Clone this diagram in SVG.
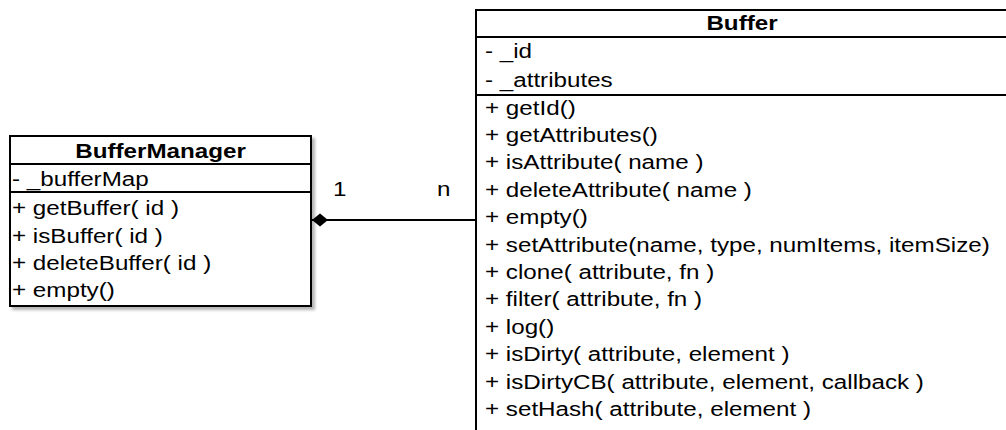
<svg xmlns="http://www.w3.org/2000/svg" width="1006" height="430" viewBox="0 0 1006 430">
  <style>
    .box { fill: #ffffff; stroke: #000000; stroke-width: 2; }
    .sep { stroke: #000000; stroke-width: 2; }
    .t { font-family: "Liberation Sans", Arial, Helvetica, sans-serif; font-size: 20px; fill: #000000; }
    .title { font-weight: bold; text-anchor: middle; }
    .edge { stroke: #000000; stroke-width: 2; fill: none; }
  </style>
  <defs>
    <filter id="shadow" x="-5%" y="-5%" width="115%" height="115%">
      <feGaussianBlur in="SourceAlpha" stdDeviation="1.5"/>
      <feOffset dx="3" dy="3" result="b"/>
      <feComponentTransfer><feFuncA type="linear" slope="0.3"/></feComponentTransfer>
      <feMerge><feMergeNode/><feMergeNode in="SourceGraphic"/></feMerge>
    </filter>
    <!-- filled diamond for composition, tip sits on the owner's edge -->
    <marker id="diamond" markerWidth="18" markerHeight="14" refX="17" refY="7" orient="auto" markerUnits="userSpaceOnUse">
      <path d="M1,7 L9,0.5 L17,7 L9,13.5 Z" fill="#000000"/>
    </marker>
  </defs>
  <rect width="1006" height="430" fill="#ffffff"/>

  <g id="BufferManager">
    <rect class="box" x="10" y="136" width="301" height="170" filter="url(#shadow)"/>
    <line class="sep" x1="10" y1="164" x2="311" y2="164"/>
    <line class="sep" x1="10" y1="192" x2="311" y2="192"/>
    <text class="t title" transform="translate(160.5,158) scale(1.21,1)">BufferManager</text>
    <text class="t" transform="translate(12,186) scale(1.21,1)">- _bufferMap</text>
    <text class="t" transform="translate(12,215) scale(1.21,1)">+ getBuffer( id )</text>
    <text class="t" transform="translate(12,242.5) scale(1.21,1)">+ isBuffer( id )</text>
    <text class="t" transform="translate(12,270) scale(1.21,1)">+ deleteBuffer( id )</text>
    <text class="t" transform="translate(12,297) scale(1.21,1)">+ empty()</text>
  </g>

  <g id="Buffer">
    <rect class="box" x="476" y="10" width="534" height="440" filter="url(#shadow)"/>
    <line class="sep" x1="476" y1="37" x2="1010" y2="37"/>
    <line class="sep" x1="476" y1="95" x2="1010" y2="95"/>
    <text class="t title" transform="translate(742,30) scale(1.21,1)">Buffer</text>
    <text class="t" transform="translate(485,58) scale(1.21,1)">- _id</text>
    <text class="t" transform="translate(485,87) scale(1.21,1)">- _attributes</text>
    <text class="t" transform="translate(485,114.5) scale(1.21,1)">+ getId()</text>
    <text class="t" transform="translate(485,141.9) scale(1.21,1)">+ getAttributes()</text>
    <text class="t" transform="translate(485,169.3) scale(1.21,1)">+ isAttribute( name )</text>
    <text class="t" transform="translate(485,196.7) scale(1.21,1)">+ deleteAttribute( name )</text>
    <text class="t" transform="translate(485,224.1) scale(1.21,1)">+ empty()</text>
    <text class="t" transform="translate(485,251.5) scale(1.21,1)">+ setAttribute(name, type, numItems, itemSize)</text>
    <text class="t" transform="translate(485,278.9) scale(1.21,1)">+ clone( attribute, fn )</text>
    <text class="t" transform="translate(485,306.3) scale(1.21,1)">+ filter( attribute, fn )</text>
    <text class="t" transform="translate(485,333.7) scale(1.21,1)">+ log()</text>
    <text class="t" transform="translate(485,361.1) scale(1.21,1)">+ isDirty( attribute, element )</text>
    <text class="t" transform="translate(485,388.5) scale(1.21,1)">+ isDirtyCB( attribute, element, callback )</text>
    <text class="t" transform="translate(485,415.9) scale(1.21,1)">+ setHash( attribute, element )</text>
  </g>

  <!-- composition: BufferManager owns many Buffers -->
  <g id="connectors">
    <line class="edge" x1="475" y1="220" x2="312" y2="220" marker-end="url(#diamond)"/>
    <text class="t" transform="translate(333,196) scale(1.21,1)">1</text>
    <text class="t" transform="translate(437,196) scale(1.21,1)">n</text>
  </g>
</svg>
